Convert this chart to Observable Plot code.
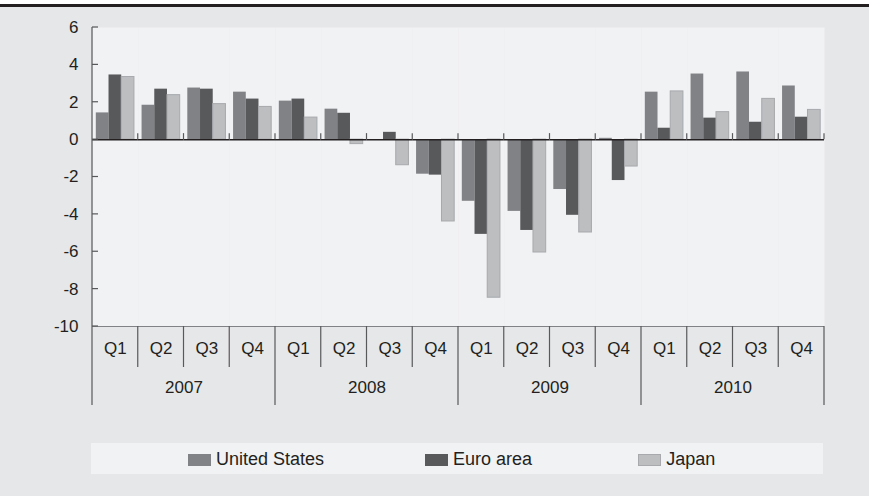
<!DOCTYPE html>
<html>
<head>
<meta charset="utf-8">
<script src="https://cdn.jsdelivr.net/npm/d3@7"></script>
<script src="https://cdn.jsdelivr.net/npm/@observablehq/plot@0.6"></script>
<style>
  html, body { margin: 0; padding: 0; background: #ffffff; }
  body { width: 869px; height: 496px; overflow: hidden; font-family: "Liberation Sans", Arial, sans-serif; color: #231f20; }
  #wrap { position: relative; margin-top: 4px; border-top: 3px solid #231f20; background: #e6e7e8; width: 869px; height: 489px; }
  #chart svg { display: block; }
  #legend { position: absolute; top: 436px; left: 91px; width: 732px; height: 31px; background: #f1f2f4;
            display: flex; align-items: center; justify-content: flex-start; padding-left: 97px;
            font-size: 18px; padding-top: 2px; box-sizing: border-box; }
  .item { display: flex; align-items: center; }
  .item + .item { margin-left: 101px; }
  .item:last-child { margin-left: 106px; }
  .sw { display: inline-block; width: 23px; height: 12px; margin-right: 5px; box-sizing: border-box; }
</style>
</head>
<body>
<div id="wrap">
  <div id="chart"></div>
  <div id="legend"></div>
</div>
<script>
const years = ["2007", "2008", "2009", "2010"];
const quarters = ["Q1", "Q2", "Q3", "Q4"];
const series = ["United States", "Euro area", "Japan"];
const seriesColors = ["#808285", "#58595b", "#bcbec0"];
const yTicks = [6, 4, 2, 0, -2, -4, -6, -8, -10];

const unitedStates = [1.43, 1.84, 2.76, 2.54, 2.06, 1.63, 0.0, -1.85, -3.30, -3.84, -2.67, 0.07, 2.54, 3.51, 3.62, 2.87];
const euroArea     = [3.46, 2.70, 2.70, 2.17, 2.17, 1.41, 0.39, -1.90, -5.07, -4.86, -4.05, -2.19, 0.61, 1.15, 0.93, 1.20];
const japan        = [3.35, 2.38, 1.90, 1.75, 1.18, -0.24, -1.37, -4.38, -8.46, -6.04, -4.97, -1.44, 2.58, 1.47, 2.18, 1.59];

const periods = [];
years.forEach(y => quarters.forEach(q => periods.push({key: y + q, year: y, q})));
const keys = periods.map(p => p.key);
const valuesBySeries = [unitedStates, euroArea, japan];
const rows = [];
periods.forEach((p, i) => series.forEach((s, j) => rows.push({key: p.key, series: s, value: valuesBySeries[j][i]})));
const yearLabels = periods.filter(p => p.q === "Q3");

const plot = Plot.plot({
  width: 869,
  height: 430,
  marginLeft: 92,
  marginRight: 45,
  marginTop: 20,
  marginBottom: 111,
  style: {background: "transparent", fontFamily: "'Liberation Sans', Arial, sans-serif", fontSize: "17px", color: "#231f20"},
  fx: {domain: keys, padding: 0, round: false, axis: null},
  x: {domain: series, paddingInner: 0, paddingOuter: 0.3, round: false, axis: null},
  y: {domain: [-10, 6], axis: null, label: null},
  color: {domain: series, range: seriesColors},
  marks: [
    Plot.frame({fill: "#f1f2f4", stroke: "none"}),
    Plot.barY(rows.filter(d => d.series !== "Japan"), {fx: "key", x: "series", y: "value", fill: "series"}),
    Plot.barY(rows.filter(d => d.series === "Japan"), {fx: "key", x: "series", y: "value", fill: "series", stroke: "#a7a9ac", strokeWidth: 1}),
    Plot.ruleY([-10], {stroke: "#808285", strokeWidth: 1}),
    Plot.ruleY([0], {stroke: "#231f20", strokeWidth: 1.5}),
    Plot.axisY(yTicks, {label: null, tickSize: 0, tickPadding: 14, tickFormat: d => String(d), fontSize: 17, fill: "#231f20"}),
    Plot.text(periods, {fx: "key", text: "q", frameAnchor: "bottom", dy: 27, fontSize: 17, fill: "#231f20"}),
    Plot.text(yearLabels, {fx: "key", text: "year", frameAnchor: "bottom-left", textAnchor: "middle", dy: 66, fontSize: 17, fill: "#231f20"})
  ]
});
document.getElementById("chart").appendChild(plot);

// axis decorations drawn from the plot's own scales
const fxs = plot.scale("fx");
const ys = plot.scale("y");
const bounds = keys.map(k => fxs.apply(k));
bounds.push(fxs.apply(keys[keys.length - 1]) + fxs.bandwidth);
const y0 = ys.apply(0), yTop = ys.apply(6), yBot = ys.apply(-10);
const g = d3.select(plot).append("g").attr("stroke", "#58595b").attr("stroke-width", 1.2).attr("fill", "none");
const left = bounds[0];
g.append("line").attr("x1", left).attr("x2", left).attr("y1", yTop).attr("y2", yBot + 79);
yTicks.forEach(t => g.append("line").attr("x1", left).attr("x2", left + 6).attr("y1", ys.apply(t)).attr("y2", ys.apply(t)));
bounds.forEach((b, i) => {
  if (i === 0) return;
  g.append("line").attr("x1", b).attr("x2", b).attr("y1", y0 - 6).attr("y2", y0);
  g.append("line").attr("x1", b).attr("x2", b).attr("y1", yBot).attr("y2", yBot + (i % 4 === 0 ? 79 : 41));
});

// legend
const legend = d3.select("#legend");
series.forEach((s, i) => {
  const it = legend.append("div").attr("class", "item");
  it.append("span").attr("class", "sw").style("background", seriesColors[i])
    .style("border", s === "Japan" ? "1px solid #a7a9ac" : "none");
  it.append("span").text(s);
});
</script>
</body>
</html>
